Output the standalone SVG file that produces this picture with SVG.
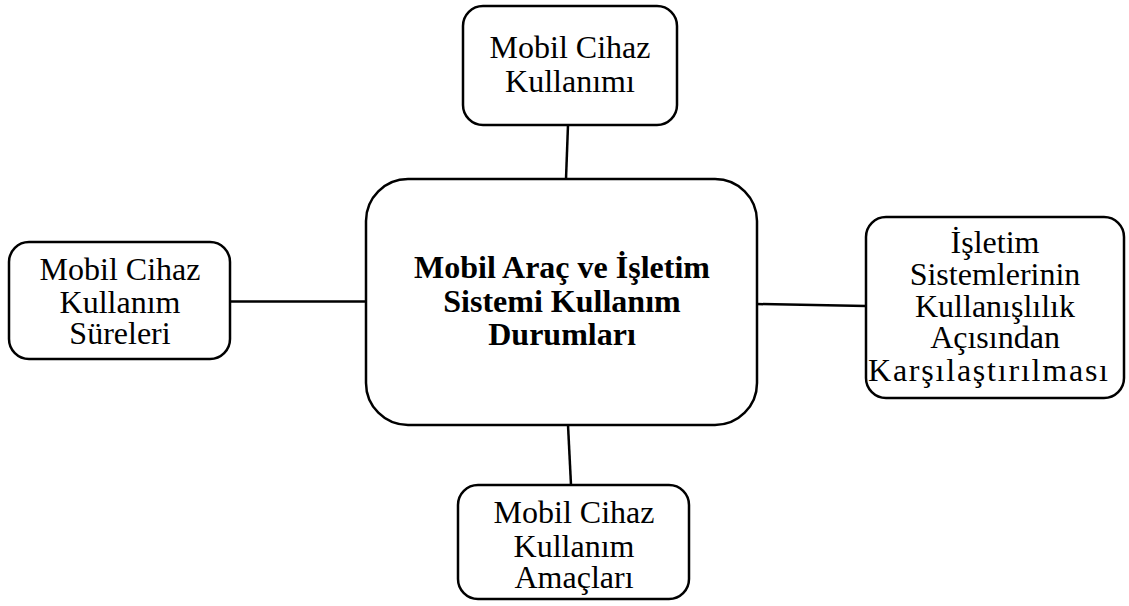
<svg xmlns="http://www.w3.org/2000/svg" width="1129" height="606" viewBox="0 0 1129 606">
<style>
.box{fill:#fff;stroke:#000;stroke-width:2.5}
.t{font-family:"Liberation Serif","Times New Roman",serif;font-size:32px;fill:#000;text-anchor:middle}
.b{font-weight:bold}
.c{stroke:#000;stroke-width:2.5;fill:none}
</style>
<rect width="1129" height="606" fill="#fff"/>
<g id="connectors">
<line class="c" x1="568" y1="125" x2="566" y2="179"/>
<line class="c" x1="230" y1="301.5" x2="366" y2="301.5"/>
<line class="c" x1="757" y1="304" x2="866" y2="306"/>
<line class="c" x1="568" y1="425" x2="571" y2="485"/>
</g>
<g id="center">
<rect class="box" x="366" y="179" width="391" height="246" rx="42" ry="42"/>
<text class="t b" x="562" y="278">Mobil Araç ve İşletim</text>
<text class="t b" x="562" y="312">Sistemi Kullanım</text>
<text class="t b" x="562" y="345">Durumları</text>
</g>
<g id="top">
<rect class="box" x="463" y="6" width="214" height="119" rx="20" ry="20"/>
<text class="t" x="570" y="58">Mobil Cihaz</text>
<text class="t" x="570" y="92">Kullanımı</text>
</g>
<g id="left">
<rect class="box" x="9" y="242" width="221" height="117" rx="20" ry="20"/>
<text class="t" x="120" y="280">Mobil Cihaz</text>
<text class="t" x="120" y="313">Kullanım</text>
<text class="t" x="120" y="344">Süreleri</text>
</g>
<g id="right">
<rect class="box" x="866" y="217" width="258" height="181" rx="20" ry="20"/>
<text class="t" x="995" y="253">İşletim</text>
<text class="t" x="995" y="285">Sistemlerinin</text>
<text class="t" x="995" y="317">Kullanışlılık</text>
<text class="t" x="995" y="348">Açısından</text>
<text class="t" x="988" y="381" textLength="240" lengthAdjust="spacing">Karşılaştırılması</text>
</g>
<g id="bottom">
<rect class="box" x="458" y="485" width="231" height="114" rx="20" ry="20"/>
<text class="t" x="574" y="523">Mobil Cihaz</text>
<text class="t" x="574" y="557">Kullanım</text>
<text class="t" x="574" y="588">Amaçları</text>
</g>
</svg>
